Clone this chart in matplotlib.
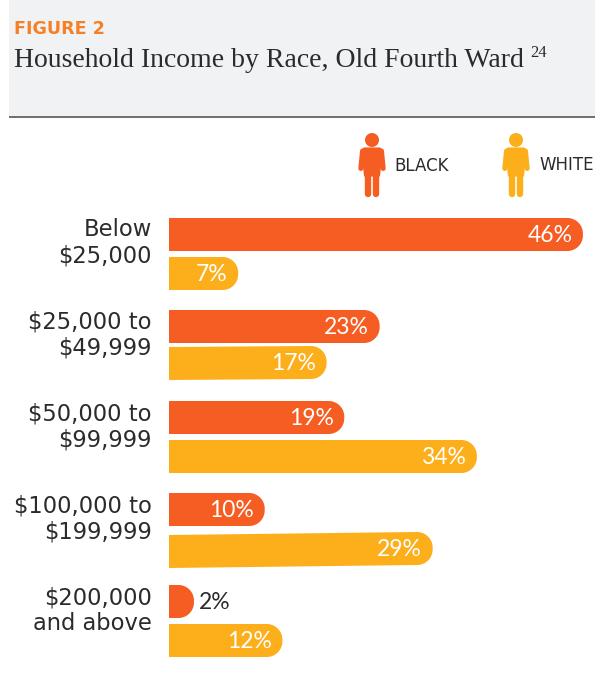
import matplotlib
matplotlib.use('Agg')
import matplotlib.pyplot as plt
from matplotlib.patches import Circle, PathPatch, Rectangle
from matplotlib.path import Path

W, H = 595, 688

# income brackets and shares per group (percent)
brackets = ['Below\n$25,000', '$25,000 to\n$49,999', '$50,000 to\n$99,999',
            '$100,000 to\n$199,999', '$200,000\nand above']
black_pct = [46, 23, 19, 10, 2]
white_pct = [7, 17, 34, 29, 12]

# layout, in pixels from the top of the page
black_tops = [218, 310, 401, 493, 585]
white_tops = [257, 347, 440, 535, 624]
white_tilt = [0, 1, 0, 3, 0]
label_base = [236, 328, 421, 512, 604]
BAR_H = 33
RADIUS = 15.5

ORANGE = '#F55D22'
AMBER = '#FCAF1B'
INK = '#2B2B2B'
SANS = 'DejaVu Sans'
SERIF = 'Liberation Serif'

PX_PER_PCT = 8.84
ZERO_PX = 176.3   # x pixel of the 0% position
BAR_LEFT = (169 - ZERO_PX) / PX_PER_PCT
KAPPA = 0.55

fig = plt.figure(figsize=(W / 100, H / 100), dpi=100, facecolor='white')

# page axes: plain pixel coordinates, used for header, icons and labels
page = fig.add_axes([0, 0, 1, 1])
page.set_xlim(0, W)
page.set_ylim(H, 0)
page.axis('off')

# bar axes: x in percent, y in page pixels
ax = fig.add_axes([0, 0, 1, 1])
ax.set_xlim(-ZERO_PX / PX_PER_PCT, (W - ZERO_PX) / PX_PER_PCT)
ax.set_ylim(H, 0)
ax.axis('off')
ax.patch.set_alpha(0)


def rounded_bar(value, top, color, tilt=0):
    """Bar from BAR_LEFT to value, right end rounded, rising by tilt pixels."""
    r = RADIUS / PX_PER_PCT
    t = top - tilt
    b = t + BAR_H
    c = Path.CURVE4
    verts = [(BAR_LEFT, top),
             (value - r, t),
             (value - r + KAPPA * r, t), (value, t + RADIUS - KAPPA * RADIUS), (value, t + RADIUS),
             (value, b - RADIUS),
             (value, b - RADIUS + KAPPA * RADIUS), (value - r + KAPPA * r, b), (value - r, b),
             (BAR_LEFT, top + BAR_H),
             (BAR_LEFT, top)]
    codes = [Path.MOVETO, Path.LINETO, c, c, c, Path.LINETO, c, c, c,
             Path.LINETO, Path.CLOSEPOLY]
    ax.add_patch(PathPatch(Path(verts, codes), facecolor=color, edgecolor='none'))


def value_label(value, top, tilt=0):
    y = top - tilt + BAR_H / 2 + 0.8
    if value < 5:
        ax.text(value + 0.55, y, f'{value}%', color=INK, fontsize=16.5,
                ha='left', va='center', family='Lato')
    else:
        ax.text(value - 1.2, y, f'{value}%', color='white', fontsize=16.5,
                ha='right', va='center', family='Lato')


for i in range(len(brackets)):
    rounded_bar(black_pct[i], black_tops[i], ORANGE)
    value_label(black_pct[i], black_tops[i])
    rounded_bar(white_pct[i], white_tops[i], AMBER, white_tilt[i])
    value_label(white_pct[i], white_tops[i], white_tilt[i])
    first, second = brackets[i].split('\n')
    page.text(152, label_base[i], first, color=INK, fontsize=16.3, ha='right', va='baseline', family=SANS)
    page.text(152, label_base[i] + 26, second, color=INK, fontsize=16.3, ha='right', va='baseline', family=SANS)

# header band
page.add_patch(Rectangle((9, 0), W - 9, 116, facecolor='#F1F2F4', edgecolor='none'))
page.plot([9, W], [116.5, 116.5], color='#555555', lw=1.2, solid_capstyle='butt')
page.text(14, 28.5, 'FIGURE 2', color='#F58025', fontsize=12.6, fontweight='bold',
          ha='left', va='center', family=SANS)
page.text(14, 60.5, 'Household Income by Race, Old Fourth Ward', color=INK, fontsize=20,
          ha='left', va='center', family=SERIF)
page.text(530, 53, '24', color=INK, fontsize=12, ha='left', va='center', family=SERIF)


def person(cx, color):
    """Standing figure: head, torso, arms and legs with rounded ends."""
    page.add_patch(Circle((cx, 140), 7, facecolor=color, edgecolor='none'))
    torso = [(-8, 148), (8, 148), (10, 150), (7.5, 176), (-7.5, 176), (-10, 150)]
    page.fill([cx + p[0] for p in torso], [p[1] for p in torso],
              facecolor=color, edgecolor=color, lw=0.8, joinstyle='round')
    for side in (-1, 1):
        page.plot([cx + side * 9.5, cx + side * 11.2], [151, 168.5], color=color,
                  lw=3.6, solid_capstyle='round')
        page.plot([cx + side * 4, cx + side * 4], [172, 193.5], color=color,
                  lw=4.6, solid_capstyle='round')


person(372, ORANGE)
person(516, AMBER)
page.text(394, 166, 'BLACK', color=INK, fontsize=12, ha='left', va='center', family=SANS)
page.text(539, 165, 'WHITE', color=INK, fontsize=12, ha='left', va='center', family=SANS)

fig.savefig('out.png', dpi=100)
